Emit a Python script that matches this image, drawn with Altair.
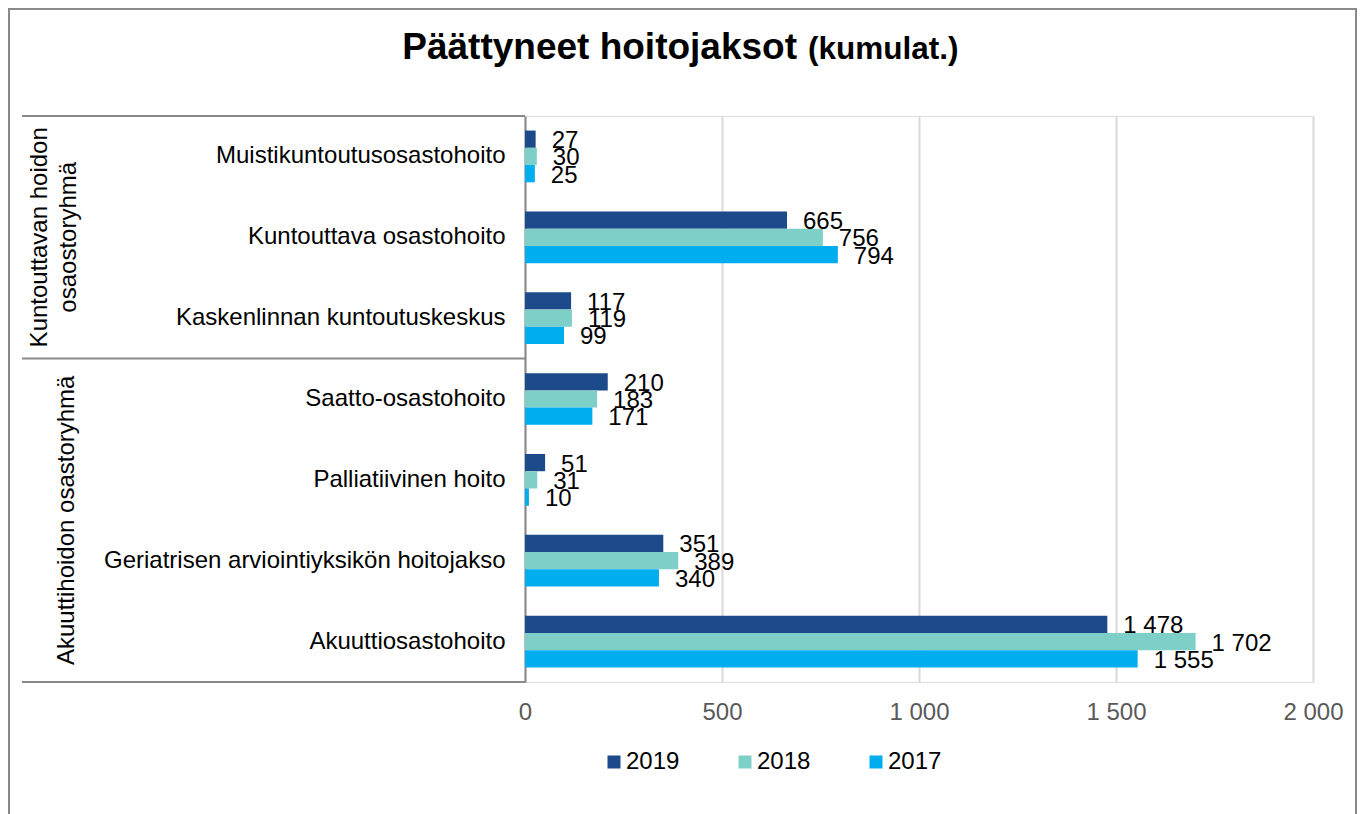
import altair as alt
import pandas as pd

# ---- data ----
categories = [
    "Muistikuntoutusosastohoito",
    "Kuntouttava osastohoito",
    "Kaskenlinnan kuntoutuskeskus",
    "Saatto-osastohoito",
    "Palliatiivinen hoito",
    "Geriatrisen arviointiyksikön hoitojakso",
    "Akuuttiosastohoito",
]
years = ["2019", "2018", "2017"]
v2019 = [27, 665, 117, 210, 51, 351, 1478]
v2018 = [30, 756, 119, 183, 31, 389, 1702]
v2017 = [25, 794, 99, 171, 10, 340, 1555]
colors = ["#1D4A8A", "#7ECFC8", "#00AEEF"]
x_ticks = [0, 500, 1000, 1500, 2000]
group_labels = ["Kuntouttavan hoidon\nosaostoryhmä", "Akuuttihoidon osastoryhmä"]
title_main = "Päättyneet hoitojaksot"
title_sub = "(kumulat.)"

rows = []
for yr, vals in zip(years, [v2019, v2018, v2017]):
    for c, v in zip(categories, vals):
        rows.append({"category": c, "year": yr, "value": v})
df = pd.DataFrame(rows)

FONT = "Liberation Sans"
GRAY = "#898989"
W, H = 788, 566
one = pd.DataFrame({"k": [0]})

fmt = "replace(format(datum.value, ','), ',', ' ')"

y_enc = alt.Y(
    "category:N",
    sort=categories,
    scale=alt.Scale(paddingInner=0.36, paddingOuter=0.18),
    axis=alt.Axis(
        title=None, labelFontSize=24, labelColor="#000000", labelFont=FONT,
        ticks=False, domainColor=GRAY, domainWidth=2, labelPadding=20,
        labelLimit=0,
    ),
)
x_enc = alt.X(
    "value:Q",
    scale=alt.Scale(domain=[0, 2000], nice=False),
    axis=alt.Axis(
        values=x_ticks, title=None, labelExpr=fmt, labelFontSize=24,
        labelColor="#595959", labelFont=FONT, ticks=False, domain=False,
        grid=True, gridColor="#D9D9D9", gridWidth=2, labelPadding=18,
        labelFlush=False,
    ),
)
yoff = alt.YOffset("year:N", sort=years)

bars = alt.Chart(df).mark_bar().encode(
    x=x_enc,
    y=y_enc,
    yOffset=yoff,
    color=alt.Color(
        "year:N",
        sort=years,
        scale=alt.Scale(domain=years, range=colors),
        legend=alt.Legend(
            title=None, orient="none", legendX=77, legendY=634,
            direction="horizontal", symbolType="square", symbolSize=169,
            symbolStrokeWidth=0, labelFontSize=24, labelFont=FONT,
            labelColor="#000000", labelOffset=0, columnPadding=53,
        ),
    ),
)

labels = alt.Chart(df).transform_calculate(
    lbl=fmt
).mark_text(
    align="left", baseline="middle", dx=16, dy=2, fontSize=24, font=FONT,
    color="#000000",
).encode(
    x="value:Q",
    y=alt.Y("category:N", sort=categories),
    yOffset=yoff,
    text="lbl:N",
)

# decorative frame and divider lines of the category area
frame = alt.Chart(one).mark_rect(
    fillOpacity=0, stroke=GRAY, strokeWidth=2
).encode(
    x=alt.value(-516), x2=alt.value(831), y=alt.value(-107), y2=alt.value(740)
)
line_top = alt.Chart(one).mark_rule(color=GRAY, strokeWidth=2).encode(
    x=alt.value(-503), x2=alt.value(0), y=alt.value(0)
)
line_mid = alt.Chart(one).mark_rule(color=GRAY, strokeWidth=2).encode(
    x=alt.value(-503), x2=alt.value(0), y=alt.value(H * 3 / 7)
)
line_bot = alt.Chart(one).mark_rule(color=GRAY, strokeWidth=2).encode(
    x=alt.value(-503), x2=alt.value(0), y=alt.value(H)
)

g1 = alt.Chart(pd.DataFrame({"t": [group_labels[0]]})).mark_text(
    angle=270, align="center", baseline="middle", fontSize=24, font=FONT,
    color="#000000", lineBreak="\n", lineHeight=29,
).encode(text="t:N", x=alt.value(-485), y=alt.value(H * 1.5 / 7))
g2 = alt.Chart(pd.DataFrame({"t": [group_labels[1]]})).mark_text(
    angle=270, align="center", baseline="middle", fontSize=24, font=FONT,
    color="#000000",
).encode(text="t:N", x=alt.value(-458), y=alt.value(H * 5 / 7))

t1 = alt.Chart(pd.DataFrame({"t": [title_main]})).mark_text(
    align="right", baseline="alphabetic", fontSize=37, fontWeight="bold",
    font=FONT, color="#000000",
).encode(text="t:N", x=alt.value(272), y=alt.value(-57))
t2 = alt.Chart(pd.DataFrame({"t": [title_sub]})).mark_text(
    align="left", baseline="alphabetic", fontSize=31.5, fontWeight="bold",
    font=FONT, color="#000000",
).encode(text="t:N", x=alt.value(283), y=alt.value(-57))

chart = alt.layer(
    frame, line_top, line_mid, line_bot, bars, labels, g1, g2, t1, t2
).properties(
    width=W, height=H,
    autosize=alt.AutoSizeParams(type="none"),
    padding={"left": 517, "top": 108, "right": 44, "bottom": 132},
).configure_view(
    stroke=GRAY, strokeWidth=2
).configure(
    background="white"
)

chart.save("out.html", embed_options={"renderer": "svg", "actions": False})
